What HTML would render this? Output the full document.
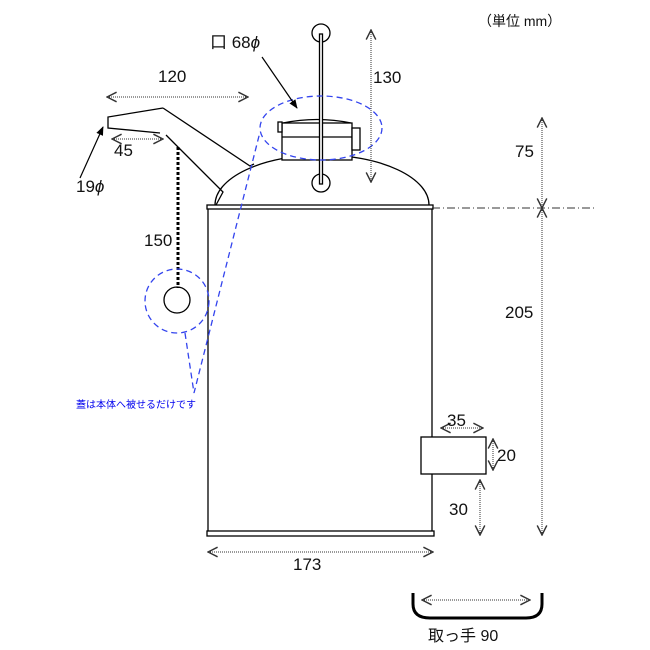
<!DOCTYPE html>
<html><head><meta charset="utf-8"><style>
html,body{margin:0;padding:0;background:#fff}
svg{display:block}
text{font-family:"Liberation Sans","Noto Sans CJK JP",sans-serif;font-size:17px;fill:#111}
</style></head><body>
<svg width="650" height="650" viewBox="0 0 650 650" xmlns="http://www.w3.org/2000/svg">
<defs>
<marker id="oa" viewBox="0 0 10 10" refX="9" refY="5" markerWidth="12" markerHeight="12" markerUnits="userSpaceOnUse" orient="auto-start-reverse"><path d="M1,1 L9,5 L1,9" fill="none" stroke="#333" stroke-width="1.2"/></marker>
<marker id="fa" viewBox="0 0 10 10" refX="9" refY="5" markerWidth="9" markerHeight="9" markerUnits="userSpaceOnUse" orient="auto"><path d="M0,1 L10,5 L0,9 z" fill="#000"/></marker>
</defs>
<g fill="none" stroke="#000" stroke-width="1.3">
<path d="M215,205 A107,50 0 0 1 429,205"/>
<rect x="207" y="205" width="226" height="4" fill="#fff"/>
<line x1="208" y1="209" x2="208" y2="531"/>
<line x1="432" y1="209" x2="432" y2="531"/>
<rect x="207" y="531" width="227" height="5" fill="#fff"/>
<path d="M283,123 Q317,116 351,123" />
<rect x="282" y="123" width="70" height="37" fill="#fff"/>
<line x1="282" y1="137" x2="352" y2="137"/>
<rect x="278" y="122" width="4" height="10" fill="#fff"/>
<rect x="352" y="128" width="8" height="22" fill="#fff"/>
<circle cx="321" cy="33" r="9" fill="#fff"/>
<circle cx="321" cy="183" r="9" fill="#fff"/>
<rect x="319.5" y="34" width="3" height="150" fill="#fff"/>
<polyline points="163,108 108,117 108,128 160,133"/>
<polyline points="166,135 223,192 216,205"/>
<polyline points="163,108 250,166 254,164"/>
<circle cx="177" cy="300" r="13"/>
<rect x="421" y="437" width="65" height="37" fill="#fff"/>
<path d="M413,593 V604 Q413,618 430,618 H526 Q542,618 542,604 V593" stroke-width="3"/>
</g>
<line x1="178" y1="147" x2="178" y2="288" stroke="#000" stroke-width="3" stroke-dasharray="3,2"/>
<g fill="none" stroke="#3344ee" stroke-width="1.3" stroke-dasharray="6,4">
<circle cx="177" cy="301" r="32"/>
<ellipse cx="321" cy="128" rx="61" ry="32"/>
<polyline points="185,333 194,393 260,132"/>
</g>
<text x="76" y="408" style="font-size:10px;fill:#0000ee">蓋は本体へ被せるだけです</text>
<g fill="none" stroke="#333" stroke-width="1" stroke-dasharray="1,1">
<line x1="107" y1="97" x2="248" y2="97" marker-start="url(#oa)" marker-end="url(#oa)"/>
<line x1="112" y1="139" x2="163" y2="139" marker-start="url(#oa)" marker-end="url(#oa)"/>
<line x1="371" y1="30" x2="371" y2="182" marker-start="url(#oa)" marker-end="url(#oa)"/>
<line x1="542" y1="118" x2="542" y2="208" marker-start="url(#oa)" marker-end="url(#oa)"/>
<line x1="542" y1="208" x2="542" y2="535" marker-start="url(#oa)" marker-end="url(#oa)"/>
<line x1="441" y1="428" x2="483" y2="428" marker-start="url(#oa)" marker-end="url(#oa)"/>
<line x1="493" y1="439" x2="493" y2="470" marker-start="url(#oa)" marker-end="url(#oa)"/>
<line x1="480" y1="480" x2="480" y2="535" marker-start="url(#oa)" marker-end="url(#oa)"/>
<line x1="208" y1="552" x2="433" y2="552" marker-start="url(#oa)" marker-end="url(#oa)"/>
<line x1="422" y1="600" x2="530" y2="600" marker-start="url(#oa)" marker-end="url(#oa)"/>
</g>
<line x1="432" y1="208" x2="595" y2="208" stroke="#333" stroke-width="1" stroke-dasharray="8,3,1,3"/>
<line x1="80" y1="178" x2="103" y2="127" stroke="#000" stroke-width="1.2" marker-end="url(#fa)"/>
<line x1="262" y1="57" x2="297" y2="108" stroke="#000" stroke-width="1.2" marker-end="url(#fa)"/>
<text x="158" y="82">120</text>
<text x="114" y="156">45</text>
<text x="76" y="192">19<tspan font-style="italic">ϕ</tspan></text>
<text x="210" y="48">口 68<tspan font-style="italic">ϕ</tspan></text>
<text x="373" y="83">130</text>
<text x="144" y="246">150</text>
<text x="515" y="157">75</text>
<text x="505" y="318">205</text>
<text x="478" y="26" style="font-size:14px">（単位  mm）</text>
<text x="447" y="426">35</text>
<text x="497" y="461">20</text>
<text x="449" y="515">30</text>
<text x="293" y="570">173</text>
<text x="428" y="641" style="font-size:16px">取っ手 90</text>
</svg>
</body></html>
